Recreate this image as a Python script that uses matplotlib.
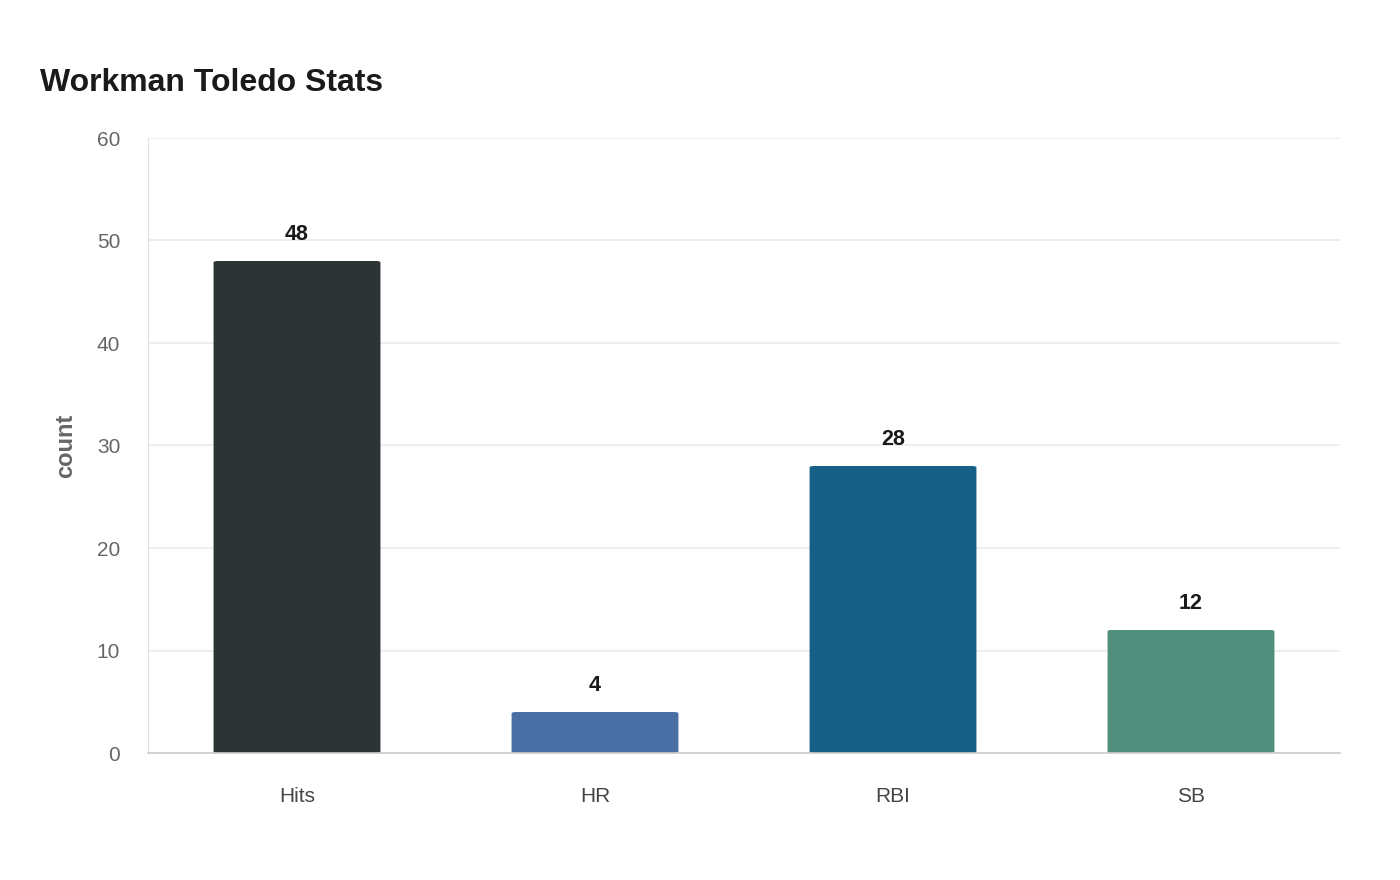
import matplotlib.pyplot as plt
from matplotlib.patches import FancyBboxPatch

categories = ["Hits", "HR", "RBI", "SB"]
counts = [48, 4, 28, 12]
colors = ["#2d3436", "#4a6fa5", "#166088", "#4f8f7b"]
y_ticks = [0, 10, 20, 30, 40, 50, 60]

plt.rcParams["font.family"] = ["Liberation Sans", "DejaVu Sans"]

fig = plt.figure(figsize=(14, 8.8), dpi=100)
ax = fig.add_axes([148 / 1400, 1 - 753 / 880, (1340 - 148) / 1400, (753 - 138) / 880])

x = list(range(len(categories)))
bars = ax.bar(x, counts, width=0.56, color=colors, zorder=3)

# swap plain bars for ones with slightly rounded corners
for b in bars:
    b.set_visible(False)
    p = FancyBboxPatch(
        (b.get_x(), 0), b.get_width(), b.get_height(),
        boxstyle="round,pad=0,rounding_size=0.015",
        mutation_aspect=10.3,
        facecolor=b.get_facecolor(), edgecolor="none", zorder=3,
    )
    ax.add_patch(p)
    ax.text(b.get_x() + b.get_width() / 2, b.get_height() + 2.6, str(int(b.get_height())),
            ha="center", va="center", fontsize=15.5, fontweight="bold", color="#1a1a1a")

ax.set_xlim(-0.5, len(categories) - 0.5)
ax.set_ylim(0, 60)
ax.set_yticks(y_ticks)
ax.set_xticks(x)
ax.set_xticklabels(categories)
ax.tick_params(axis="y", length=0, pad=20, labelsize=15, labelcolor="#666666")
ax.tick_params(axis="x", length=0, pad=24.5, labelsize=15, labelcolor="#444444")
ax.grid(axis="y", color="#ebebeb", linewidth=1.2, zorder=0)

for s in ["top", "right"]:
    ax.spines[s].set_visible(False)
ax.spines["left"].set_color("#e0e0e0")
ax.spines["left"].set_linewidth(0.8)
ax.spines["bottom"].set_color("#cccccc")
ax.spines["bottom"].set_linewidth(1.2)
ax.spines["bottom"].set_zorder(4)

ax.set_ylabel("count", fontsize=17, fontweight="bold", color="#666666", labelpad=14)

fig.text(40 / 1400, 1 - 83 / 880, "Workman Toledo Stats", fontsize=23, fontweight="bold",
         color="#1a1a1a", ha="left", va="center")

fig.savefig("out.png", dpi=100)
